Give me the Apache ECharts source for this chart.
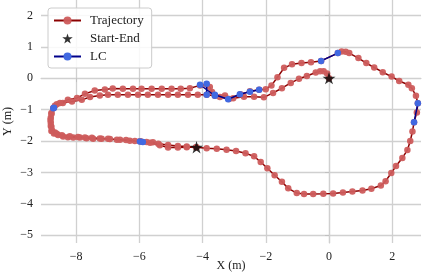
<!DOCTYPE html>
<html>
<head>
<meta charset="utf-8">
<script src="https://cdn.jsdelivr.net/npm/echarts@6/dist/echarts.min.js"></script>
<style>
html,body{margin:0;padding:0;background:#fff;}
#chart{width:428px;height:276px;}
</style>
</head>
<body>
<div id="chart"></div>
<script>
// Trajectory (two laps)
const trajX = [0.00,-0.06,-0.17,-0.28,-0.42,-0.70,-0.95,-1.21,-1.49,-1.77,-2.06,-2.37,-2.69,-3.03,-3.29,-3.61,-3.87,-4.15,-4.46,-4.78,-5.09,-5.41,-5.73,-6.04,-6.36,-6.68,-6.99,-7.25,-7.56,-7.82,-8.13,-8.42,-8.61,-8.72,-8.78,-8.80,-8.80,-8.78,-8.76,-8.67,-8.57,-8.41,-8.26,-8.09,-7.88,-7.67,-7.46,-7.19,-6.93,-6.61,-6.30,-5.98,-5.77,-5.57,-5.40,-5.09,-4.78,-4.50,-4.21,-3.87,-3.55,-3.24,-2.94,-2.64,-2.37,-2.16,-1.95,-1.72,-1.49,-1.29,-1.02,-0.79,-0.50,-0.18,0.13,0.44,0.74,1.06,1.34,1.64,1.79,1.97,2.12,2.32,2.48,2.57,2.64,2.69,2.78,2.81,2.75,2.62,2.51,2.22,1.98,1.70,1.43,1.18,0.93,0.64,0.53,0.40,0.28,-0.25,-0.57,-0.87,-1.17,-1.42,-1.63,-1.82,-2.00,-2.21,-2.50,-2.80,-3.16,-3.45,-3.70,-3.77,-3.87,-4.08,-4.40,-4.69,-4.98,-5.29,-5.61,-5.93,-6.20,-6.52,-6.84,-7.09,-7.41,-7.72,-7.97,-8.26,-8.51,-8.67,-8.72,-8.78,-8.81,-8.80,-8.78,-8.70,-8.61,-8.45,-8.20,-7.94,-7.72,-7.50,-7.25,-6.99,-6.71,-6.42,-6.14,-5.95,-5.66,-5.35,-5.09,-4.78,-4.50,-4.19];
const trajY = [0.00,0.15,0.22,0.22,0.18,0.07,-0.02,-0.15,-0.32,-0.47,-0.61,-0.59,-0.59,-0.64,-0.55,-0.56,-0.53,-0.53,-0.53,-0.53,-0.53,-0.53,-0.53,-0.53,-0.53,-0.53,-0.53,-0.55,-0.60,-0.69,-0.74,-0.79,-0.83,-0.96,-1.11,-1.26,-1.42,-1.55,-1.67,-1.73,-1.81,-1.86,-1.88,-1.89,-1.89,-1.91,-1.93,-1.93,-1.94,-1.96,-1.99,-2.01,-2.03,-2.04,-2.09,-2.13,-2.16,-2.18,-2.20,-2.23,-2.25,-2.28,-2.32,-2.39,-2.49,-2.67,-2.87,-3.09,-3.30,-3.51,-3.66,-3.69,-3.69,-3.68,-3.67,-3.64,-3.61,-3.58,-3.52,-3.42,-3.28,-3.02,-2.80,-2.54,-2.29,-2.00,-1.70,-1.40,-1.09,-0.80,-0.56,-0.32,-0.21,-0.09,0.05,0.19,0.34,0.48,0.64,0.80,0.84,0.85,0.80,0.55,0.51,0.48,0.44,0.33,0.03,-0.23,-0.35,-0.37,-0.42,-0.51,-0.66,-0.60,-0.44,-0.28,-0.20,-0.23,-0.32,-0.34,-0.34,-0.34,-0.34,-0.34,-0.34,-0.34,-0.33,-0.36,-0.39,-0.50,-0.63,-0.69,-0.79,-0.88,-0.96,-1.14,-1.33,-1.52,-1.68,-1.76,-1.77,-1.82,-1.85,-1.87,-1.89,-1.90,-1.92,-1.93,-1.96,-1.97,-2.00,-2.02,-2.06,-2.14,-2.21,-2.21,-2.20,-2.20];

// Start and end points
const startEndX = [0.00, -4.19];
const startEndY = [0.00, -2.20];

// Loop-closure segments
const lcSegX = [[-8.72,-8.70],[-5.98,-5.89],[-4.08,-3.61],[-3.87,-3.87],[-3.61,-3.19,-2.82,-2.50,-2.21],[-0.25,0.28],[2.81,2.69]];
const lcSegY = [[-0.96,-0.94],[-2.02,-2.03],[-0.21,-0.56],[-0.18,-0.53],[-0.53,-0.67,-0.51,-0.43,-0.37],[0.55,0.80],[-0.80,-1.40]];

const xTicks = [-8,-6,-4,-2,0,2];
const yTicks = [-5,-4,-3,-2,-1,0,1,2];

const FONT = 'Liberation Serif';
const zip = (a,b) => a.map((v,i)=>[v,b[i]]);
const fmt = v => String(v).replace('-', '\u2212');
const STAR = 'path://M0,-10L2.245,-3.09L9.51,-3.09L3.633,1.18L5.878,8.09L0,3.82L-5.878,8.09L-3.633,1.18L-9.51,-3.09L-2.245,-3.09Z';

const gridColor = '#d0d0d0';

const series = [{
  name: 'Trajectory', type: 'line', data: zip(trajX, trajY),
  symbol: 'circle', symbolSize: 6.5, showAllSymbol: true,
  lineStyle: {color: '#8b0000', width: 1.5},
  itemStyle: {color: 'rgba(205,92,92,0.95)'},
  z: 2
}];
lcSegX.forEach((sx, i) => {
  series.push({
    name: 'LC', type: 'line', data: zip(sx, lcSegY[i]),
    symbol: 'circle', symbolSize: 6.5,
    lineStyle: {color: '#00008b', width: 1.5},
    itemStyle: {color: '#4169e1'},
    z: 3
  });
});
series.push({
  name: 'Start-End', type: 'scatter', data: zip(startEndX, startEndY),
  symbol: STAR, symbolSize: 13, symbolKeepAspect: true,
  itemStyle: {color: '#000'}, z: 4
});

const chart = echarts.init(document.getElementById('chart'), null, {renderer: 'canvas'});
chart.setOption({
  animation: false,
  backgroundColor: '#fff',
  grid: {left: 41, right: 7, top: 0, bottom: 33, containLabel: false, outerBoundsMode: 'none'},
  legend: {
    data: ['Trajectory', 'Start-End', 'LC'],
    orient: 'vertical', left: 48, top: 8,
    itemWidth: 27, itemHeight: 10, itemGap: 5,
    padding: [6, 8, 5, 5],
    backgroundColor: 'rgba(255,255,255,0.85)',
    borderColor: '#cccccc', borderWidth: 1, borderRadius: 3,
    textStyle: {fontFamily: FONT, fontSize: 13, color: '#222', padding: [0,0,0,4]}
  },
  xAxis: {
    type: 'value', min: -9.11, max: 2.91,
    name: 'X (m)', nameLocation: 'middle', nameGap: 17, nameMoveOverlap: false,
    nameTextStyle: {fontFamily: FONT, fontSize: 12, color: '#222'},
    axisLine: {show: true, lineStyle: {color: gridColor, width: 1.2}},
    axisTick: {show: true, length: 4, customValues: xTicks, lineStyle: {color: '#c0c0c0'}},
    axisLabel: {customValues: xTicks, formatter: fmt, fontFamily: FONT, fontSize: 12, color: '#222', margin: 8},
    splitLine: {show: true, lineStyle: {color: gridColor, width: 1.3}}
  },
  yAxis: {
    type: 'value', min: -5.25, max: 2.49,
    name: 'Y (m)', nameLocation: 'middle', nameGap: 27, nameMoveOverlap: false,
    nameTextStyle: {fontFamily: FONT, fontSize: 12, color: '#222'},
    axisLine: {show: true, lineStyle: {color: gridColor, width: 1.2}},
    axisTick: {show: true, length: 4, customValues: yTicks, lineStyle: {color: '#c0c0c0'}},
    axisLabel: {customValues: yTicks, formatter: fmt, fontFamily: FONT, fontSize: 12, color: '#222', margin: 8},
    splitLine: {show: true, lineStyle: {color: gridColor, width: 1.3}}
  },
  series: series
});
</script>
</body>
</html>
